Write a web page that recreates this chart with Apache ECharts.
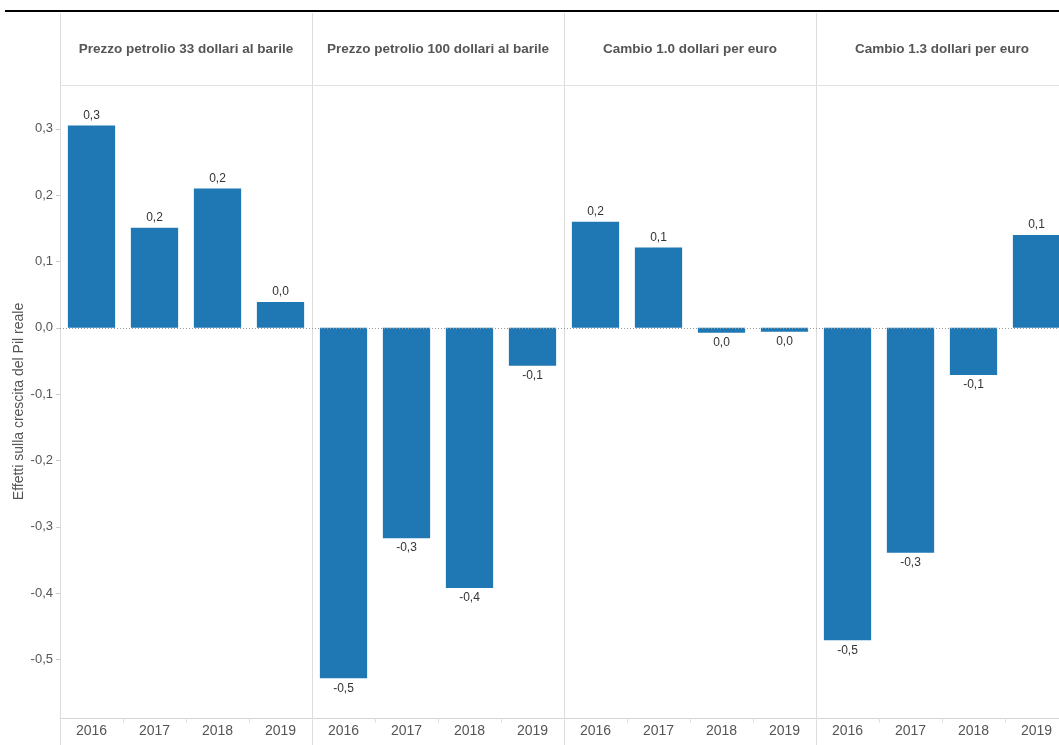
<!DOCTYPE html>
<html>
<head>
<meta charset="utf-8">
<script src="https://cdn.jsdelivr.net/npm/echarts@6/dist/echarts.min.js"></script>
<style>
  html, body { margin: 0; padding: 0; background: #fff; overflow: hidden; }
  #chart { width: 1068px; height: 745px; }
</style>
</head>
<body>
<div id="chart"></div>
<script>
// Scenario panels and years
const panels = [
  'Prezzo petrolio 33 dollari al barile',
  'Prezzo petrolio 100 dollari al barile',
  'Cambio 1.0 dollari per euro',
  'Cambio 1.3 dollari per euro'
];
const years = ['2016', '2017', '2018', '2019'];

// Effects on real GDP growth, one array per scenario
const petrolio33 = [0.305, 0.151, 0.210, 0.039];
const petrolio100 = [-0.528, -0.317, -0.392, -0.057];
const cambio10 = [0.160, 0.121, -0.0075, -0.006];
const cambio13 = [-0.471, -0.339, -0.071, 0.140];
const seriesValues = [petrolio33, petrolio100, cambio10, cambio13];

const yTicks = [-0.5, -0.4, -0.3, -0.2, -0.1, 0, 0.1, 0.2, 0.3];
const yMin = -0.588, yMax = 0.366;

// Layout
const plotLeft = 60, panelW = 252, plotTop = 85, plotBottom = 718;
const FONT = '"Liberation Sans", Arial, sans-serif';

function fmt(v) {
  let s = (Math.round(v * 10) / 10).toFixed(1);
  if (s === '-0.0') s = '0.0';
  return s.replace('.', ',');
}

const grids = [], xAxes = [], yAxes = [], series = [], graphics = [];

panels.forEach((name, i) => {
  const left = plotLeft + panelW * i;
  grids.push({ left: left, width: panelW, top: plotTop, height: plotBottom - plotTop, containLabel: false });
  xAxes.push({
    type: 'category', gridIndex: i, data: years,
    axisLine: { show: true, onZero: false, lineStyle: { color: '#d4d4d4' } },
    axisTick: { show: true, length: 5, lineStyle: { color: '#e0e0e0' } },
    axisLabel: { color: '#555', fontSize: 14, fontFamily: FONT, margin: 6 },
    position: 'bottom'
  });
  yAxes.push({
    type: 'value', gridIndex: i, min: yMin, max: yMax,
    name: i === 0 ? 'Effetti sulla crescita del Pil reale' : '',
    nameLocation: 'middle', nameGap: 34,
    nameTextStyle: { color: '#555', fontSize: 14, fontFamily: FONT },
    axisLine: { show: false },
    splitLine: { show: false },
    axisTick: { show: i === 0, length: 4, customValues: yTicks, lineStyle: { color: '#ccc' } },
    axisLabel: {
      show: i === 0, customValues: yTicks, color: '#555', fontSize: 13, fontFamily: FONT, margin: 7,
      formatter: v => fmt(v)
    }
  });
  series.push({
    type: 'bar', xAxisIndex: i, yAxisIndex: i,
    barCategoryGap: '25%',
    itemStyle: { color: '#1f77b4' },
    data: seriesValues[i].map(v => ({
      value: v,
      label: { position: v >= 0 ? 'top' : 'bottom' }
    })),
    label: {
      show: true, color: '#333', fontSize: 12, fontFamily: FONT, distance: 4,
      formatter: p => fmt(p.value)
    },
    markLine: {
      silent: true, symbol: 'none', label: { show: false },
      lineStyle: { color: '#999', type: [1, 2], width: 1 },
      data: [{ yAxis: 0 }]
    }
  });
  // panel header
  graphics.push({
    type: 'text', x: left + panelW / 2, y: 49, z: 10,
    style: {
      text: name, fill: '#555', font: 'bold 13.5px ' + FONT,
      textAlign: 'center', textVerticalAlign: 'middle'
    }
  });
  // vertical separator at panel left edge
  graphics.push({
    type: 'line', z: 0,
    shape: { x1: left + 0.5, y1: 13, x2: left + 0.5, y2: 745 },
    style: { stroke: '#dcdcdc', lineWidth: 1 }
  });
});

// header bottom rule
graphics.push({
  type: 'line', z: 0,
  shape: { x1: plotLeft, y1: plotTop + 0.5, x2: 1068, y2: plotTop + 0.5 },
  style: { stroke: '#e2e2e2', lineWidth: 1 }
});
// top heavy rule
graphics.push({
  type: 'line', z: 10,
  shape: { x1: 5, y1: 11, x2: 1068, y2: 11 },
  style: { stroke: '#000', lineWidth: 2 }
});

const chart = echarts.init(document.getElementById('chart'), null, { renderer: 'canvas' });
chart.setOption({
  backgroundColor: '#fff',
  animation: false,
  grid: grids,
  xAxis: xAxes,
  yAxis: yAxes,
  series: series,
  graphic: graphics
});
</script>
</body>
</html>
